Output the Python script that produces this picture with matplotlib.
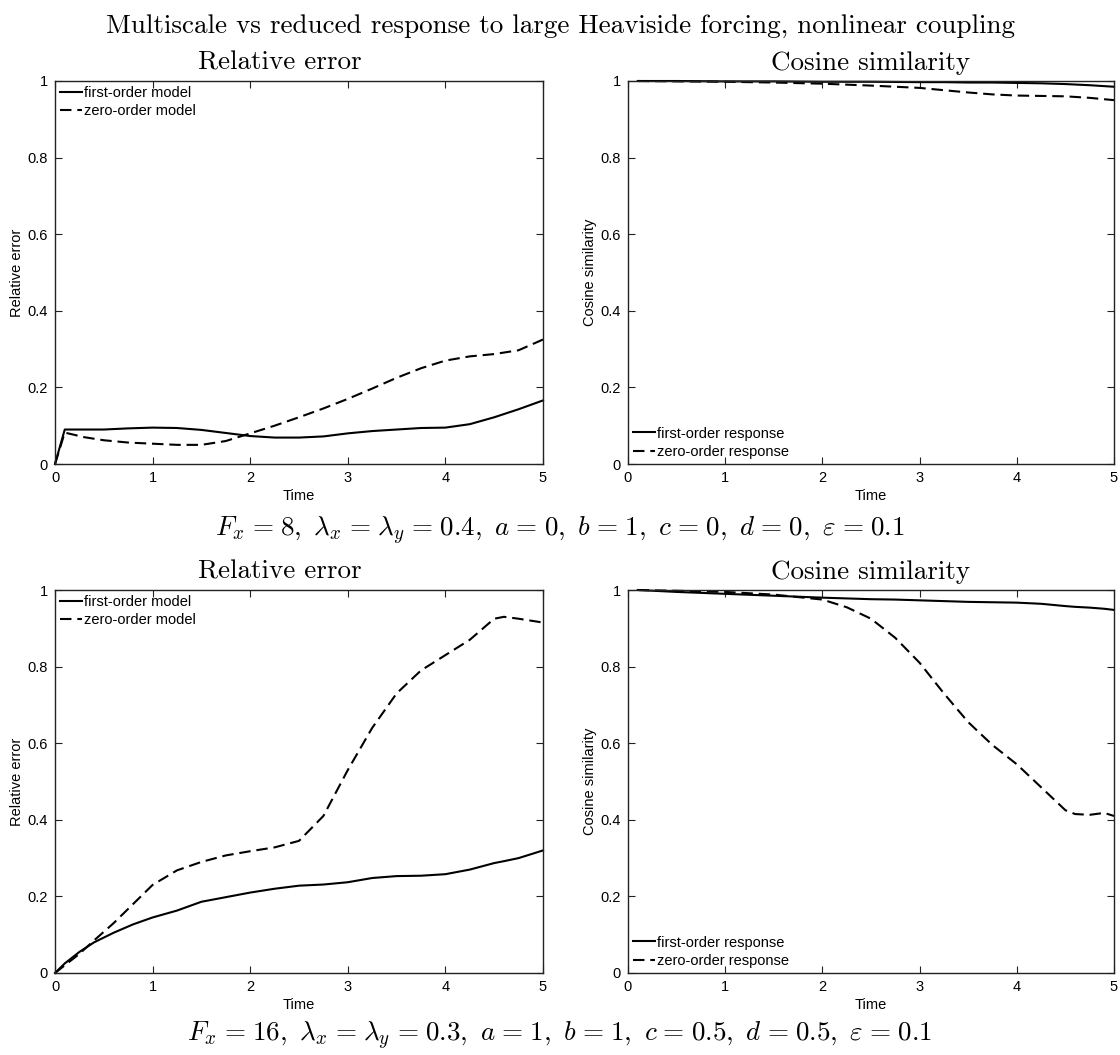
import matplotlib
matplotlib.use("Agg")
import matplotlib.pyplot as plt
from matplotlib.ticker import FixedLocator, FixedFormatter

# ---------------- data ----------------
t_err1 = [0, 0.1, 0.3, 0.5, 0.75, 1.0, 1.25, 1.5, 1.75, 2.0, 2.25, 2.5, 2.75,
          3.0, 3.25, 3.5, 3.75, 4.0, 4.25, 4.5, 4.75, 5.0]
err1_first = [0, 0.090, 0.090, 0.090, 0.093, 0.095, 0.094, 0.089, 0.081, 0.073,
              0.069, 0.069, 0.072, 0.080, 0.086, 0.090, 0.094, 0.095, 0.104,
              0.122, 0.143, 0.166]
err1_zero = [0, 0.082, 0.070, 0.062, 0.056, 0.053, 0.050, 0.050, 0.060, 0.080,
             0.100, 0.122, 0.145, 0.170, 0.197, 0.225, 0.250, 0.270, 0.281,
             0.287, 0.297, 0.325]

t_cos1 = [0.1, 0.5, 1.0, 1.5, 2.0, 2.5, 3.0, 3.25, 3.5, 3.75, 4.0, 4.25, 4.5,
          4.75, 5.0]
cos1_first = [1.0, 1.0, 0.999, 0.999, 0.998, 0.998, 0.997, 0.997, 0.996, 0.996,
              0.995, 0.994, 0.992, 0.989, 0.985]
cos1_zero = [1.0, 0.999, 0.998, 0.996, 0.993, 0.988, 0.982, 0.976, 0.970,
             0.965, 0.962, 0.961, 0.960, 0.956, 0.950]

t_err2 = [0, 0.1, 0.25, 0.4, 0.6, 0.8, 1.0, 1.25, 1.5, 1.75, 2.0, 2.25, 2.5,
          2.75, 3.0, 3.25, 3.5, 3.75, 4.0, 4.25, 4.5, 4.6, 4.75, 5.0]
err2_first = [0, 0.025, 0.055, 0.080, 0.105, 0.127, 0.145, 0.163, 0.186, 0.198,
              0.210, 0.220, 0.228, 0.231, 0.237, 0.248, 0.253, 0.254, 0.258,
              0.270, 0.287, 0.292, 0.300, 0.320]
err2_zero = [0, 0.020, 0.050, 0.085, 0.130, 0.180, 0.230, 0.268, 0.290, 0.307,
             0.318, 0.328, 0.345, 0.410, 0.530, 0.640, 0.730, 0.790, 0.830,
             0.870, 0.925, 0.930, 0.925, 0.915]

t_cos2 = [0.1, 0.5, 1.0, 1.5, 2.0, 2.25, 2.5, 2.75, 3.0, 3.25, 3.5, 3.75, 4.0,
          4.25, 4.5, 4.6, 4.75, 4.9, 5.0]
cos2_first = [1.0, 0.995, 0.990, 0.985, 0.980, 0.978, 0.976, 0.975, 0.973,
              0.971, 0.969, 0.968, 0.967, 0.964, 0.958, 0.956, 0.954, 0.951,
              0.948]
cos2_zero = [1.0, 0.998, 0.995, 0.988, 0.975, 0.955, 0.925, 0.875, 0.810,
             0.730, 0.655, 0.595, 0.545, 0.485, 0.425, 0.415, 0.413, 0.418,
             0.410]

x_ticks = [0, 1, 2, 3, 4, 5]
x_labels = ["0", "1", "2", "3", "4", "5"]
y_ticks = [0, 0.2, 0.4, 0.6, 0.8, 1.0]
y_labels = ["0", "0.2", "0.4", "0.6", "0.8", "1"]

suptitle = "Multiscale vs reduced response to large Heaviside forcing, nonlinear coupling"
EQ = r"\hspace{0.1}=\hspace{0.1}"
param_top = (r"$F_x EQ 8,\ \lambda_x EQ \lambda_y EQ 0.4,\ a EQ 0,\ b EQ 1,\ "
             r"c EQ 0,\ d EQ 0,\ \varepsilon EQ 0.1$").replace("EQ", EQ)
param_bot = (r"$F_x EQ 16,\ \lambda_x EQ \lambda_y EQ 0.3,\ a EQ 1,\ b EQ 1,\ "
             r"c EQ 0.5,\ d EQ 0.5,\ \varepsilon EQ 0.1$").replace("EQ", EQ)

# ---------------- style ----------------
plt.rcParams["mathtext.fontset"] = "cm"
plt.rcParams["font.family"] = ["Liberation Sans", "DejaVu Sans"]
SANS = 10.5
SERIF = 19.5
LW = 1.5
DASH = (0, (5.5, 2.8))

W, H = 1120, 1055
fig = plt.figure(figsize=(W / 100, H / 100), dpi=100)


def px_axes(x0, y0, x1, y1):
    return fig.add_axes([x0 / W, 1 - y1 / H, (x1 - x0) / W, (y1 - y0) / H])


def style(ax, title, ylabel, title_x):
    ax.set_xlim(0, 5)
    ax.set_ylim(0, 1)
    ax.xaxis.set_major_locator(FixedLocator(x_ticks))
    ax.xaxis.set_major_formatter(FixedFormatter(x_labels))
    ax.yaxis.set_major_locator(FixedLocator(y_ticks))
    ax.yaxis.set_major_formatter(FixedFormatter(y_labels))
    ax.tick_params(direction="in", top=True, right=True, length=5, width=0.8,
                   labelsize=SANS, pad=5, colors="#222222", labelcolor="black")
    for s in ax.spines.values():
        s.set_linewidth(1.0)
        s.set_color("#222222")
    ax.set_title(title, family="cmr10", fontsize=SERIF, pad=8, x=title_x)
    ax.set_xlabel("Time", fontsize=SANS, labelpad=3)
    ax.set_ylabel(ylabel, fontsize=SANS, labelpad=3)


top_y = (81, 464)
bot_y = (590, 973)
left_x = (55, 543)
right_x = (628, 1114)

ax1 = px_axes(left_x[0], top_y[0], left_x[1], top_y[1])
ax2 = px_axes(right_x[0], top_y[0], right_x[1], top_y[1])
ax3 = px_axes(left_x[0], bot_y[0], left_x[1], bot_y[1])
ax4 = px_axes(right_x[0], bot_y[0], right_x[1], bot_y[1])

for ax, t, a, b, lab, loc, title, yl, tx in [
    (ax1, t_err1, err1_first, err1_zero, "model", "upper left", "Relative error", "Relative error", 0.46),
    (ax2, t_cos1, cos1_first, cos1_zero, "response", "lower left", "Cosine similarity", "Cosine similarity", 0.5),
    (ax3, t_err2, err2_first, err2_zero, "model", "upper left", "Relative error", "Relative error", 0.46),
    (ax4, t_cos2, cos2_first, cos2_zero, "response", "lower left", "Cosine similarity", "Cosine similarity", 0.5),
]:
    ax.plot(t, a, color="black", lw=LW, label="first-order " + lab, clip_on=False)
    ax.plot(t, b, color="black", lw=LW, linestyle=DASH, label="zero-order " + lab, clip_on=False)
    style(ax, title, yl, tx)
    ax.legend(loc=loc, frameon=False, fontsize=SANS, handlelength=1.5,
              handletextpad=0.15, borderaxespad=0.25, borderpad=0.1,
              labelspacing=0.3)

fig.text(0.5, 1 - 33 / H, suptitle, family="cmr10", fontsize=SERIF,
         ha="center", va="baseline")
fig.text(0.5, 1 - 531 / H, param_top, fontsize=SERIF, ha="center", va="center")
fig.text(0.5, 1 - 1036 / H, param_bot, fontsize=SERIF, ha="center", va="center")

fig.savefig("out.png", dpi=100, facecolor="white")
